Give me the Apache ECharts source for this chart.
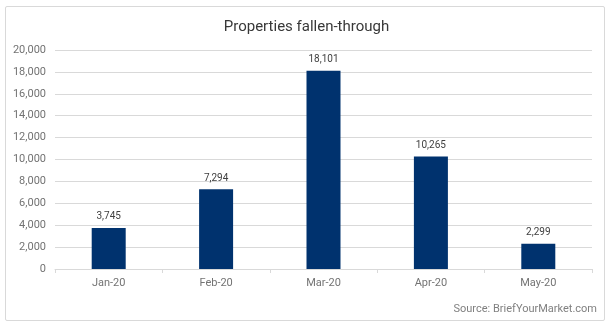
<!DOCTYPE html>
<html>
<head>
<meta charset="utf-8">
<style>
  html, body { margin: 0; padding: 0; background: #ffffff; }
  #frame { position: absolute; left: 5px; top: 6px; width: 600px; height: 315px; border: 1px solid #d9d9d9; border-radius: 2px; box-sizing: border-box; }
  #chart { position: absolute; left: 0; top: 0; width: 613px; height: 329px; }
</style>
<script src="https://cdn.jsdelivr.net/npm/echarts@6/dist/echarts.min.js"></script>
</head>
<body>
<div id="frame"></div>
<div id="chart"></div>
<script>
const months = ['Jan-20', 'Feb-20', 'Mar-20', 'Apr-20', 'May-20'];
const fallenThrough = [3745, 7294, 18101, 10265, 2299];

const chart = echarts.init(document.getElementById('chart'));
chart.setOption({
  backgroundColor: 'transparent',
  animation: false,
  textStyle: { fontFamily: 'Roboto' },
  title: {
    text: 'Properties fallen-through',
    left: 'center',
    top: 15,
    textStyle: { fontFamily: 'Roboto', fontSize: 15, fontWeight: 'normal', color: '#383838' }
  },
  graphic: [{
    type: 'text',
    right: 16,
    bottom: 14,
    style: { text: 'Source: BriefYourMarket.com', fontFamily: 'Roboto', fontSize: 11, fill: '#808080' }
  }],
  grid: { left: 55, right: 21, top: 50, bottom: 60 },
  xAxis: {
    type: 'category',
    data: months,
    axisLine: { lineStyle: { color: '#d9d9d9' } },
    axisTick: { show: true, length: 4, lineStyle: { color: '#d9d9d9' } },
    axisLabel: { color: '#737373', fontSize: 11, margin: 9 }
  },
  yAxis: {
    type: 'value',
    min: 0,
    max: 20000,
    interval: 2000,
    axisLine: { show: false },
    axisTick: { show: false },
    splitLine: { lineStyle: { color: '#d9d9d9' } },
    axisLabel: {
      color: '#737373',
      fontSize: 11,
      margin: 9,
      formatter: v => v.toLocaleString('en-US')
    }
  },
  series: [{
    type: 'bar',
    data: fallenThrough,
    barWidth: 34,
    itemStyle: { color: '#00326e' },
    label: {
      show: true,
      position: 'top',
      distance: 6,
      color: '#404040',
      fontSize: 10,
      formatter: p => p.value.toLocaleString('en-US')
    }
  }]
});
</script>
</body>
</html>
